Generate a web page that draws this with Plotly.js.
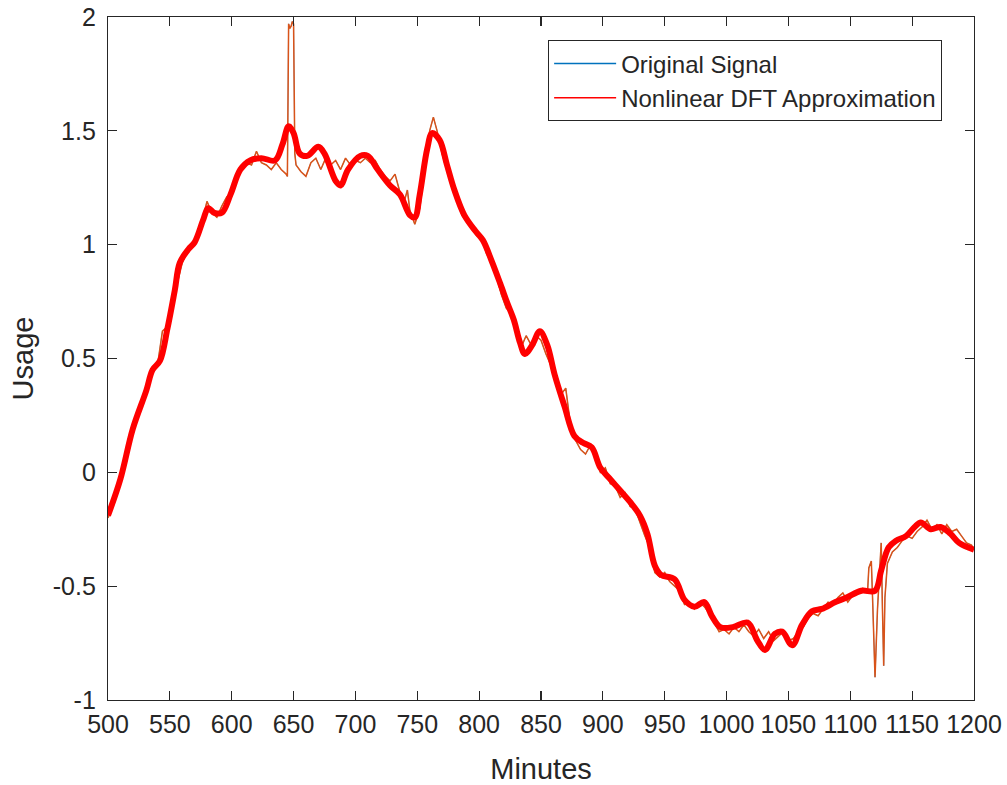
<!DOCTYPE html>
<html>
<head>
<meta charset="utf-8">
<script src="https://cdn.plot.ly/plotly-3.0.1.min.js"></script>
<style>html,body{margin:0;padding:0;background:#fff;}#chart{width:1007px;height:785px;}</style>
</head>
<body>
<div id="chart"></div>
<script>
// Original signal (minutes, usage)
const origMinutes = [500,504,508,512,516,520,524,528,532,536,540,544,548,552,556,560,564,568,572,576,580,584,588,592,596,600,604,608,612,616,620,624,628,632,636,640,644,645,646,647,648,649,650,651,652,656,660,664,668,672,676,680,684,688,692,696,700,704,708,712,716,720,724,728,732,736,740,742,744,748,752,756,760,763,766,770,774,778,782,786,790,794,798,802,806,810,814,818,822,826,830,834,838,842,846,850,854,858,862,866,870,874,878,882,886,890,894,898,902,906,910,914,918,922,926,930,934,938,942,946,950,954,958,962,966,970,974,978,982,986,990,994,998,1002,1006,1010,1014,1018,1022,1026,1030,1034,1038,1042,1046,1050,1054,1058,1062,1066,1070,1074,1078,1082,1086,1090,1094,1098,1102,1106,1110,1114,1115,1117,1118,1120,1122,1124,1125,1126,1127,1128,1130,1134,1138,1142,1146,1150,1154,1158,1162,1166,1170,1174,1178,1182,1186,1190,1194,1198,1200];
const origUsage = [-0.20,-0.15,-0.07,0.00,0.10,0.18,0.25,0.31,0.38,0.44,0.47,0.62,0.64,0.74,0.83,0.92,0.97,0.99,1.05,1.10,1.19,1.14,1.12,1.17,1.21,1.22,1.30,1.34,1.36,1.35,1.41,1.36,1.35,1.33,1.36,1.33,1.31,1.30,1.97,1.95,1.96,1.98,1.97,1.40,1.35,1.32,1.30,1.36,1.38,1.33,1.38,1.35,1.37,1.33,1.38,1.35,1.37,1.36,1.38,1.36,1.37,1.33,1.30,1.28,1.31,1.23,1.20,1.24,1.15,1.09,1.16,1.33,1.50,1.56,1.50,1.40,1.32,1.25,1.20,1.13,1.10,1.07,1.04,1.03,0.96,0.92,0.86,0.78,0.72,0.70,0.62,0.55,0.60,0.56,0.60,0.58,0.52,0.47,0.40,0.34,0.37,0.20,0.14,0.10,0.08,0.12,0.06,0.00,0.02,-0.05,-0.06,-0.11,-0.09,-0.15,-0.16,-0.22,-0.28,-0.33,-0.44,-0.46,-0.44,-0.48,-0.50,-0.52,-0.58,-0.57,-0.60,-0.57,-0.59,-0.62,-0.66,-0.70,-0.69,-0.71,-0.68,-0.70,-0.67,-0.70,-0.72,-0.69,-0.73,-0.70,-0.74,-0.72,-0.70,-0.74,-0.73,-0.70,-0.68,-0.64,-0.62,-0.63,-0.60,-0.57,-0.58,-0.55,-0.53,-0.57,-0.54,-0.52,-0.51,-0.52,-0.42,-0.39,-0.55,-0.90,-0.60,-0.38,-0.31,-0.60,-0.85,-0.55,-0.40,-0.35,-0.33,-0.30,-0.28,-0.29,-0.26,-0.24,-0.21,-0.25,-0.23,-0.27,-0.23,-0.26,-0.25,-0.28,-0.31,-0.32,-0.34,-0.36,-0.41];

// Nonlinear DFT approximation
const approxMinutes = [500,510,520,531,536,542,548,554,558,565,570,577,581,586,592,599,607,615,624,635,641,646,650,655,661,670,675,684,688,694,704,710,718,728,736,744,748,752,758,762,768,774,780,788,797,803,810,817,823,828,833,837,843,849,855,861,869,877,884,891,898,906,914,922,930,936,942,947,958,966,974,982,988,995,1005,1017,1025,1031,1039,1045,1053,1061,1069,1077,1088,1097,1109,1120,1125,1131,1137,1145,1152,1157,1165,1173,1181,1188,1200];
const approxUsage = [-0.19,-0.03,0.19,0.36,0.45,0.49,0.63,0.80,0.92,0.98,1.01,1.11,1.16,1.14,1.14,1.22,1.33,1.37,1.38,1.37,1.44,1.52,1.49,1.40,1.39,1.43,1.40,1.28,1.26,1.33,1.39,1.39,1.33,1.26,1.22,1.13,1.12,1.22,1.42,1.49,1.46,1.35,1.24,1.13,1.06,1.02,0.93,0.83,0.74,0.67,0.57,0.52,0.56,0.62,0.56,0.43,0.29,0.16,0.13,0.11,0.02,-0.03,-0.08,-0.13,-0.19,-0.27,-0.41,-0.45,-0.47,-0.56,-0.59,-0.57,-0.63,-0.68,-0.68,-0.66,-0.74,-0.78,-0.71,-0.70,-0.76,-0.67,-0.61,-0.60,-0.57,-0.55,-0.52,-0.52,-0.43,-0.33,-0.30,-0.28,-0.24,-0.22,-0.25,-0.24,-0.27,-0.31,-0.34];

const xTicks = [500,550,600,650,700,750,800,850,900,950,1000,1050,1100,1150,1200];
const yTicks = [-1,-0.5,0,0.5,1,1.5,2];
const yTickText = ['-1','-0.5','0','0.5','1','1.5','2'];

const axisColor = '#262626';
const font = 'Liberation Sans, Arial, sans-serif';

const traces = [
  {x: origMinutes, y: origUsage, type: 'scatter', mode: 'lines', name: 'Original Signal', showlegend: false,
   line: {color: '#0072BD', width: 0.6}},
  {x: origMinutes, y: origUsage, type: 'scatter', mode: 'lines', name: 'Original (overlay)', showlegend: false,
   line: {color: '#D95319', width: 1.5}},
  {x: approxMinutes, y: approxUsage, type: 'scatter', mode: 'lines', name: 'Nonlinear DFT Approximation', showlegend: false,
   line: {color: '#FF0000', width: 6, shape: 'spline', smoothing: 1}},
  // legend entries (thin line samples, as in the reference legend)
  {x: [null], y: [null], type: 'scatter', mode: 'lines', name: 'Original Signal',
   line: {color: '#0072BD', width: 1.5}},
  {x: [null], y: [null], type: 'scatter', mode: 'lines', name: 'Nonlinear DFT Approximation',
   line: {color: '#FF0000', width: 1.5}}
];

const layout = {
  width: 1007, height: 785,
  margin: {l: 108, r: 33, t: 17, b: 85},
  paper_bgcolor: '#ffffff', plot_bgcolor: '#ffffff',
  font: {family: font, size: 24, color: axisColor},
  showlegend: true,
  legend: {x: 0.508, y: 0.966, xanchor: 'left', yanchor: 'top', itemwidth: 62,
    bgcolor: '#ffffff', bordercolor: axisColor, borderwidth: 1.2,
    font: {family: font, size: 24, color: axisColor}, tracegroupgap: 0},
  xaxis: {range: [500, 1200], tickvals: xTicks, ticktext: xTicks.map(String),
    ticks: 'inside', ticklen: 9, tickwidth: 1.2, tickcolor: axisColor,
    showline: true, linecolor: axisColor, linewidth: 1.2, mirror: 'ticks',
    showgrid: false, zeroline: false, ticklabelstandoff: 2,
    tickfont: {family: font, size: 25, color: axisColor},
    title: {text: 'Minutes', font: {family: font, size: 29, color: axisColor}, standoff: 21}},
  yaxis: {range: [-1, 2], tickvals: yTicks, ticktext: yTickText,
    ticks: 'inside', ticklen: 9, tickwidth: 1.2, tickcolor: axisColor,
    showline: true, linecolor: axisColor, linewidth: 1.2, mirror: 'ticks',
    showgrid: false, zeroline: false, ticklabelstandoff: 6,
    tickfont: {family: font, size: 25, color: axisColor},
    title: {text: 'Usage', font: {family: font, size: 29, color: axisColor}, standoff: 10}}
};

Plotly.newPlot('chart', traces, layout, {displayModeBar: false, staticPlot: true});
</script>
</body>
</html>
